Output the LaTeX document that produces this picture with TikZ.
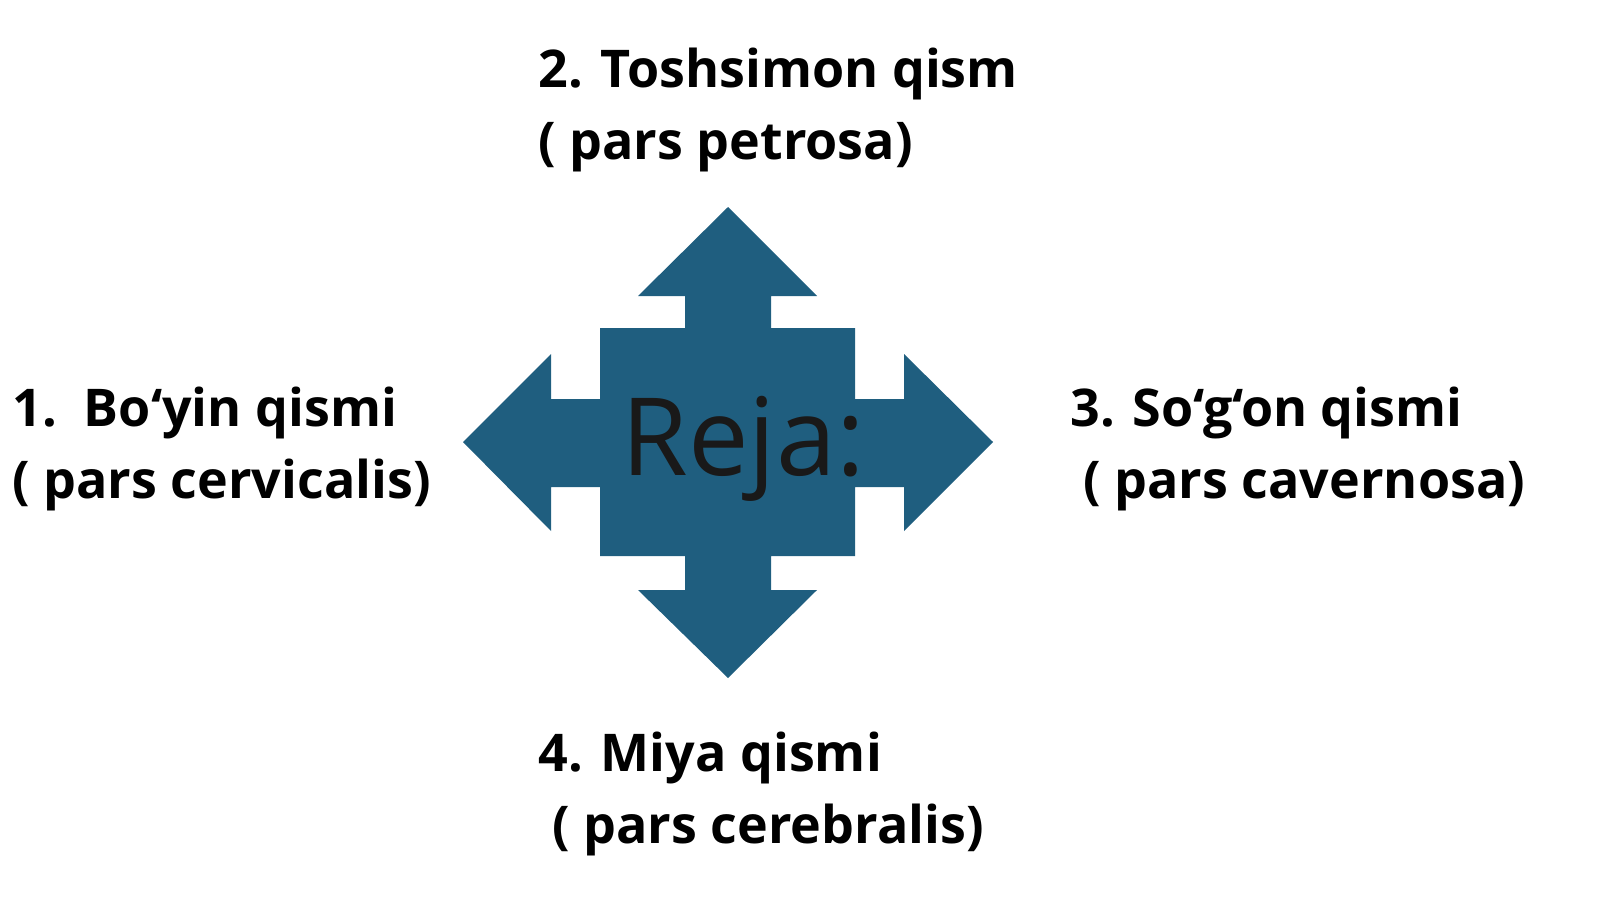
\documentclass[tikz,border=0pt]{standalone}
\usepackage{fontspec}
\setmainfont{Open Sans}
\usepackage{tikz}
\usetikzlibrary{positioning}
\definecolor{rejablue}{HTML}{1F5E7F}
\begin{document}
\begin{tikzpicture}[x=0.5pt,y=-0.5pt,
  lbl/.style={anchor=base west,inner sep=0pt,font=\fontsize{26}{31}\selectfont\bfseries}]
\useasboundingbox (0,0) rectangle (1600,899);
%quad arrow
\fill[rejablue] (728,207) -- (817,296) -- (771,296) -- (771,328) -- (855,328) -- (855,399)
  -- (904,399) -- (904,354) -- (993,442) -- (904,531) -- (904,487) -- (855,487)
  -- (855,556) -- (771,556) -- (771,590) -- (817,590) -- (728,678) -- (638,590)
  -- (685,590) -- (685,556) -- (600,556) -- (600,487) -- (551,487) -- (551,531)
  -- (463,442) -- (551,354) -- (551,399) -- (600,399) -- (600,328) -- (685,328)
  -- (685,296) -- (638,296) -- cycle;
\node (reja) [anchor=base west,inner sep=0pt,font=\fontsize{54}{62}\selectfont,text=black!90] at (621,475) {Reja:};
%labels
\node (qism1) [lbl] at (12,426) {1.\ \ Bo‘yin qismi};
\node (pars1) [lbl] at (12,498) {( pars cervicalis)};
\node (qism2) [lbl] at (538,88) {2. Toshsimon qism};
\node (pars2) [lbl] at (538,160) {( pars petrosa)};
\node (qism3) [lbl] at (1070,426) {3. So‘g‘on qismi};
\node (pars3) [lbl] at (1083,498) {( pars cavernosa)};
\node (qism4) [lbl] at (538,771) {4. Miya qismi};
\node (pars4) [lbl] at (552,843) {( pars cerebralis)};
\end{tikzpicture}
\end{document}
